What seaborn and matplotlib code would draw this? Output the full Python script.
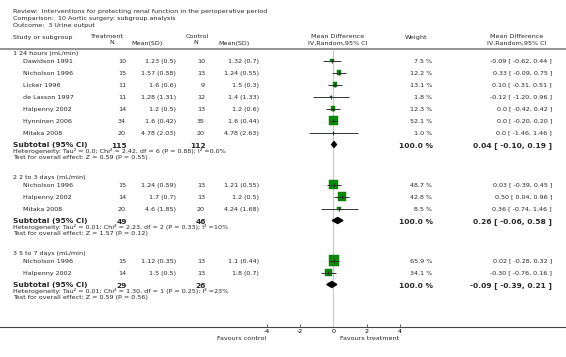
import numpy as np
import pandas as pd
import matplotlib
matplotlib.use("Agg")
import matplotlib.pyplot as plt
import seaborn as sns

# ---- data ----
review = "Review:  Interventions for protecting renal function in the perioperative period"
comparison = "Comparison:  10 Aortic surgery: subgroup analysis"
outcome = "Outcome:  3 Urine output"

group_names = ["1 24 hours (mL/min)", "2 2 to 3 days (mL/min)", "3 5 to 7 days (mL/min)"]

study = ["Dawidson 1991", "Nicholson 1996", "Licker 1996", "de Lasson 1997", "Halpenny 2002",
         "Hynninen 2006", "Mitaka 2008",
         "Nicholson 1996", "Halpenny 2002", "Mitaka 2008",
         "Nicholson 1996", "Halpenny 2002"]
group = [0, 0, 0, 0, 0, 0, 0, 1, 1, 1, 2, 2]
trt_n = [10, 15, 11, 11, 14, 34, 20, 15, 14, 20, 15, 14]
trt_msd = ["1.23 (0.5)", "1.57 (0.58)", "1.6 (0.6)", "1.28 (1.31)", "1.2 (0.5)", "1.6 (0.42)",
           "4.78 (2.03)", "1.24 (0.59)", "1.7 (0.7)", "4.6 (1.85)", "1.12 (0.35)", "1.5 (0.5)"]
ctl_n = [10, 13, 9, 12, 13, 35, 20, 13, 13, 20, 13, 13]
ctl_msd = ["1.32 (0.7)", "1.24 (0.55)", "1.5 (0.3)", "1.4 (1.33)", "1.2 (0.6)", "1.6 (0.44)",
           "4.78 (2.63)", "1.21 (0.55)", "1.2 (0.5)", "4.24 (1.68)", "1.1 (0.44)", "1.8 (0.7)"]
weight = [7.5, 12.2, 13.1, 1.8, 12.3, 52.1, 1.0, 48.7, 42.8, 8.5, 65.9, 34.1]
md = [-0.09, 0.33, 0.10, -0.12, 0.0, 0.0, 0.0, 0.03, 0.50, 0.36, 0.02, -0.30]
md_lo = [-0.62, -0.09, -0.31, -1.20, -0.42, -0.20, -1.46, -0.39, 0.04, -0.74, -0.28, -0.76]
md_hi = [0.44, 0.75, 0.51, 0.96, 0.42, 0.20, 1.46, 0.45, 0.96, 1.46, 0.32, 0.16]

sub_trt_n = [115, 49, 29]
sub_ctl_n = [112, 46, 26]
sub_md = [0.04, 0.26, -0.09]
sub_lo = [-0.10, -0.06, -0.39]
sub_hi = [0.19, 0.58, 0.21]
heterogeneity = ["Heterogeneity: Tau\u00b2 = 0.0; Chi\u00b2 = 2.42, df = 6 (P = 0.88); I\u00b2 =0.0%",
                 "Heterogeneity: Tau\u00b2 = 0.01; Chi\u00b2 = 2.23, df = 2 (P = 0.33); I\u00b2 =10%",
                 "Heterogeneity: Tau\u00b2 = 0.01; Chi\u00b2 = 1.30, df = 1 (P = 0.25); I\u00b2 =23%"]
overall = ["Test for overall effect: Z = 0.59 (P = 0.55)",
           "Test for overall effect: Z = 1.57 (P = 0.12)",
           "Test for overall effect: Z = 0.59 (P = 0.56)"]
x_ticks = [-4, -2, 0, 2, 4]


def fmt(v):
    return "0.0" if v == 0 else f"{v:.2f}"


# ---- row layout (pixels from top) ----
W, H = 566, 357
AXIS_Y = 326.5
y = 54.0
head_y, study_y, sub_y, het_y, test_y = [], [], [], [], []
for g in range(len(group_names)):
    head_y.append(y)
    y += 6.5
    for i in range(len(study)):
        if group[i] == g:
            study_y.append(y)
            y += 12
    sub_y.append(y)
    het_y.append(y + 6.5)
    test_y.append(y + 12.5)
    y += 12.5 + 21

df = pd.DataFrame({"md": md, "y": study_y, "weight": weight})

sns.set_theme(style="white")
plt.rcParams["font.family"] = ["DejaVu Sans"]

fig = plt.figure(figsize=(W / 100, H / 100), dpi=100)

# text layer in pixel coordinates
tax = fig.add_axes([0, 0, 1, 1])
tax.set_xlim(0, W)
tax.set_ylim(H, 0)
tax.axis("off")

# forest layer: mean difference on x
fax = fig.add_axes([0, (H - AXIS_Y) / H, 1, AXIS_Y / H])
fax.patch.set_alpha(0)
px_per_unit = 16.67
zero_px = 333.3
fax.set_xlim(-zero_px / px_per_unit, (W - zero_px) / px_per_unit)
fax.set_ylim(AXIS_Y, 0)
for s in ["top", "left", "right"]:
    fax.spines[s].set_visible(False)
fax.spines["bottom"].set_color("#444444")
fax.spines["bottom"].set_linewidth(0.8)
fax.set_yticks([])
fax.set_xticks(x_ticks)
fax.set_xticklabels([str(t) for t in x_ticks])
fax.tick_params(axis="x", direction="in", length=2, width=0.6, colors="#444444",
                labelsize=4.6, labelcolor="black", pad=1.5, bottom=True)

# zero line and header rule
fax.vlines(0, 49, AXIS_Y, color="#c8c8c8", lw=0.8, zorder=1)
tax.axhline(49, color="#8c8c8c", lw=1.3)

# confidence intervals and squares
fax.hlines(study_y, md_lo, md_hi, color="#333333", lw=0.7, zorder=3)
sns.scatterplot(data=df, x="md", y="y", size="weight", sizes=(0, 80), size_norm=(0, 100),
                marker="s", color="#0a8a0a", edgecolor="#0a6a0a", linewidth=0.3,
                legend=False, ax=fax, zorder=2)
fax.plot(md, study_y, ls="none", marker="|", ms=2.5, mew=0.6, color="#222222", zorder=4)
fax.set_xlabel("")
fax.set_ylabel("")

# subtotal diamonds
for g in range(len(group_names)):
    yy = sub_y[g]
    fax.fill([sub_lo[g], sub_md[g], sub_hi[g], sub_md[g]], [yy, yy - 3, yy, yy + 3],
             color="black", zorder=4)

# ---- texts ----
fs = 4.6
fsb = 5.4
tax.text(13, 12, review, fontsize=fs, va="center")
tax.text(13, 18.5, comparison, fontsize=fs, va="center")
tax.text(13, 25, outcome, fontsize=fs, va="center")

tax.text(13, 38, "Study or subgroup", fontsize=fs, va="center")
tax.text(106, 37, "Treatment", fontsize=fs, va="center", ha="center")
tax.text(112, 43, "N", fontsize=fs, va="center", ha="center")
tax.text(147, 43, "Mean(SD)", fontsize=fs, va="center", ha="center")
tax.text(197, 37, "Control", fontsize=fs, va="center", ha="center")
tax.text(196, 43, "N", fontsize=fs, va="center", ha="center")
tax.text(234, 43, "Mean(SD)", fontsize=fs, va="center", ha="center")
tax.text(338, 37, "Mean Difference", fontsize=fs, va="center", ha="center")
tax.text(338, 43, "IV,Random,95% CI", fontsize=fs, va="center", ha="center")
tax.text(416, 37, "Weight", fontsize=fs, va="center", ha="center")
tax.text(517, 37, "Mean Difference", fontsize=fs, va="center", ha="center")
tax.text(517, 43, "IV,Random,95% CI", fontsize=fs, va="center", ha="center")

for i in range(len(study)):
    yy = study_y[i] + 0.8
    tax.text(23, yy, study[i], fontsize=fs, va="center")
    tax.text(126, yy, str(trt_n[i]), fontsize=fs, va="center", ha="right")
    tax.text(176, yy, trt_msd[i], fontsize=fs, va="center", ha="right")
    tax.text(205, yy, str(ctl_n[i]), fontsize=fs, va="center", ha="right")
    tax.text(259, yy, ctl_msd[i], fontsize=fs, va="center", ha="right")
    tax.text(432, yy, f"{weight[i]:.1f} %", fontsize=fs, va="center", ha="right")
    tax.text(552, yy, f"{fmt(md[i])} [ {fmt(md_lo[i])}, {fmt(md_hi[i])} ]",
             fontsize=fs, va="center", ha="right")

for g in range(len(group_names)):
    tax.text(13, head_y[g], group_names[g], fontsize=fs, va="center")
    yy = sub_y[g] + 1
    tax.text(13, yy, "Subtotal (95% CI)", fontsize=fsb, fontweight="bold", va="center")
    tax.text(127, yy, str(sub_trt_n[g]), fontsize=fsb, fontweight="bold", va="center", ha="right")
    tax.text(206, yy, str(sub_ctl_n[g]), fontsize=fsb, fontweight="bold", va="center", ha="right")
    tax.text(433, yy, "100.0 %", fontsize=fsb, fontweight="bold", va="center", ha="right")
    tax.text(552, yy, f"{fmt(sub_md[g])} [ {fmt(sub_lo[g])}, {fmt(sub_hi[g])} ]",
             fontsize=fsb, fontweight="bold", va="center", ha="right")
    tax.text(13, het_y[g], heterogeneity[g], fontsize=fs, va="center")
    tax.text(13, test_y[g], overall[g], fontsize=fs, va="center")

tax.text(266, 338, "Favours control", fontsize=fs, va="center", ha="right")
tax.text(340, 338, "Favours treatment", fontsize=fs, va="center", ha="left")

fig.savefig("out.png", dpi=100)
